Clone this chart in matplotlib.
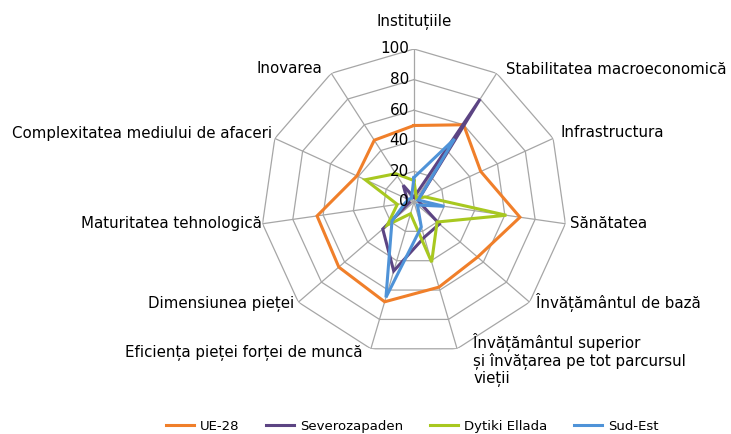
import matplotlib.pyplot as plt
import numpy as np

categories = ["Instituțiile", "Stabilitatea macroeconomică", "Infrastructura",
              "Sănătatea", "Învățământul de bază",
              "Învățământul superior\nși învățarea pe tot parcursul\nvieții",
              "Eficiența pieței forței de muncă", "Dimensiunea pieței",
              "Maturitatea tehnologică", "Complexitatea mediului de afaceri",
              "Inovarea"]
ue28 = [50, 60, 48, 70, 55, 58, 68, 65, 64, 41, 48]
severozapaden = [3, 80, 3, 4, 22, 24, 47, 27, 3, 5, 13]
dytiki_ellada = [14, 3, 8, 61, 20, 41, 8, 23, 11, 35, 22]
sud_est = [16, 49, 3, 20, 3, 17, 65, 19, 6, 4, 3]
series_names = ["UE-28", "Severozapaden", "Dytiki Ellada", "Sud-Est"]
ticks = [0, 20, 40, 60, 80, 100]

colors = ["#F07F2A", "#5C4483", "#A8C820", "#4F93D8"]

n = len(categories)
angles = np.arange(n) * 2 * np.pi / n
closed = np.append(angles, angles[0])

fig = plt.figure(figsize=(7.31, 4.34), dpi=100)
ax = fig.add_axes([0.3570, 0.1821, 0.4186, 0.705], projection="polar")
ax.set_theta_zero_location("N")
ax.set_theta_direction(-1)
ax.set_ylim(0, 100)
ax.grid(False)
ax.spines["polar"].set_visible(False)
ax.set_xticks([])
ax.set_yticks([])
ax.patch.set_alpha(0)

# polygon grid
for t in ticks[1:]:
    ax.plot(closed, [t] * (n + 1), color="#A6A6A6", lw=0.9, zorder=1)
for a in angles:
    ax.plot([a, a], [0, 100], color="#A6A6A6", lw=0.9, zorder=1)

for t in ticks:
    ax.annotate(str(t), xy=(0, t), xytext=(-5, 0), textcoords="offset pixels",
                ha="right", va="center", fontsize=11, color="black", zorder=5)

for vals, name, c in zip([ue28, severozapaden, dytiki_ellada, sud_est], series_names, colors):
    ax.plot(closed, vals + vals[:1], color=c, lw=2.2, label=name, zorder=3,
            solid_joinstyle="miter")

# label placement (pixel offsets from the 100 vertex)
offsets = [(0, 27, "center", "center"), (9, 4, "left", "center"), (7, 6, "left", "center"),
           (5, 0, "left", "center"), (6, 0, "left", "center"), (16, 16, "left", "top"),
           (-8, -4, "right", "center"), (-4, -2, "right", "center"), (-1, 0, "right", "center"),
           (-3, 5, "right", "center"), (-9, 5, "right", "center")]
for a, lab, (dx, dy, ha, va) in zip(angles, categories, offsets):
    ax.annotate(lab, xy=(a, 100), xytext=(dx, dy), textcoords="offset pixels",
                ha=ha, va=va, fontsize=10.85, linespacing=1.1, annotation_clip=False)

fig.legend(loc="lower center", bbox_to_anchor=(0.564, -0.025), ncol=4, frameon=False,
           fontsize=9.5, handlelength=2.1, handletextpad=0.5, columnspacing=2.0)

fig.savefig("out.png", dpi=100)
